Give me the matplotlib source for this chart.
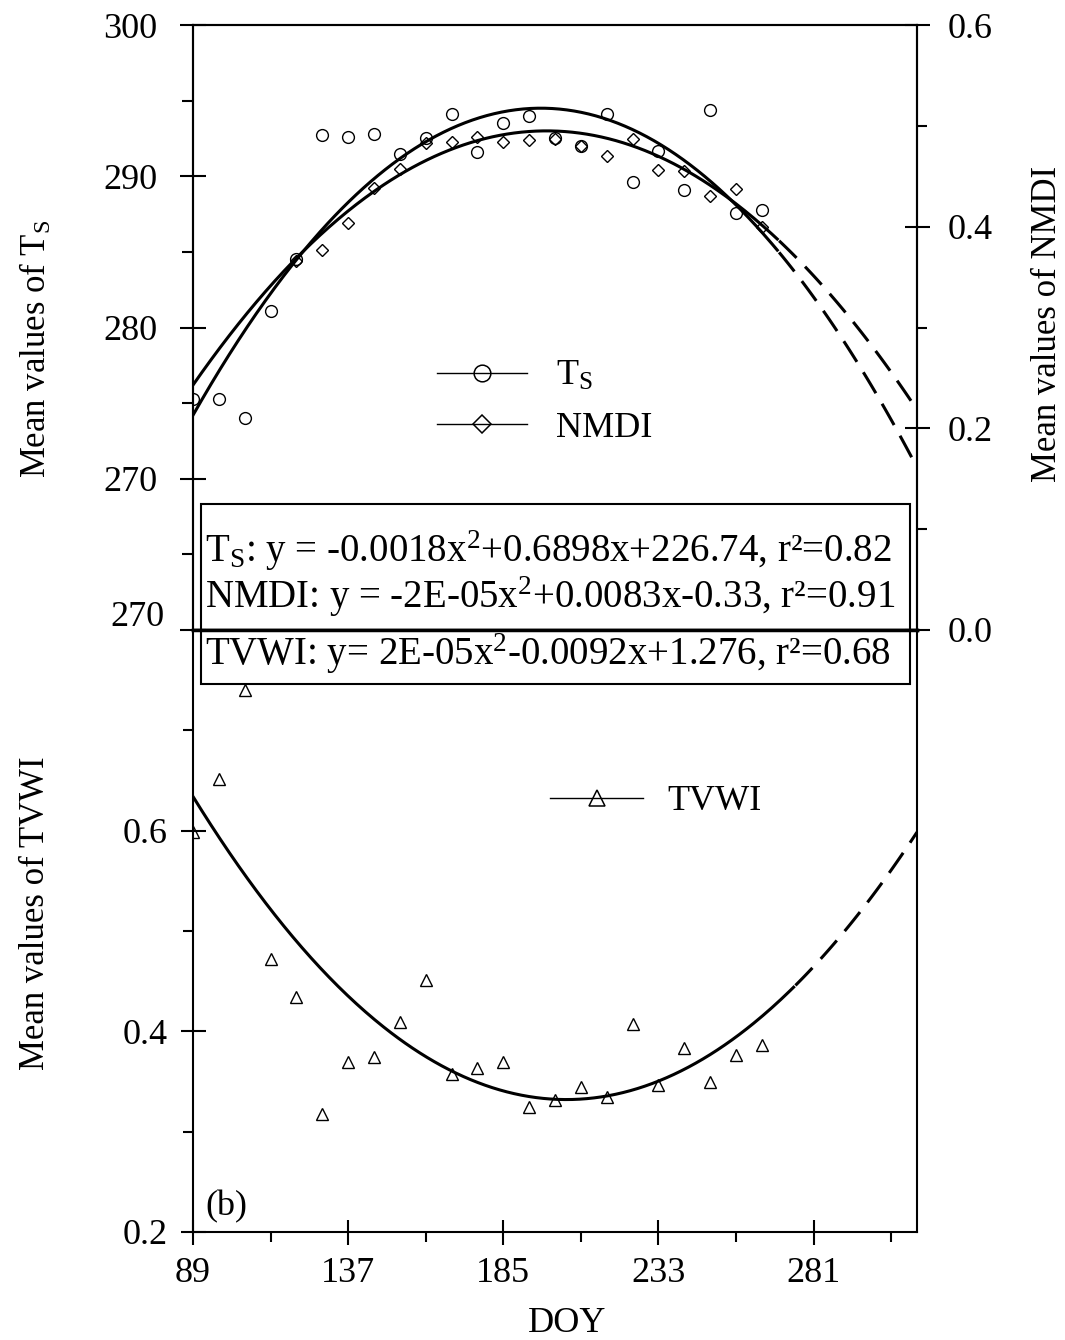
import numpy as np
import matplotlib
matplotlib.use("Agg")
import matplotlib.pyplot as plt
from matplotlib.lines import Line2D
from matplotlib.patches import Rectangle

plt.rcParams["font.family"] = ["Liberation Serif", "DejaVu Serif"]
plt.rcParams["mathtext.fontset"] = "custom"
plt.rcParams["mathtext.rm"] = "Liberation Serif"
plt.rcParams["mathtext.it"] = "Liberation Serif:italic"

# 8-day composites
doy = [89, 97, 105, 113, 121, 129, 137, 145, 153, 161, 169, 177,
       185, 193, 201, 209, 217, 225, 233, 241, 249, 257, 265]
ts = [275.3, 275.3, 274.0, 281.1, 284.5, 292.7, 292.6, 292.8, 291.5, 292.5, 294.1, 291.6,
      293.5, 294.0, 292.5, 292.0, 294.1, 289.6, 291.7, 289.1, 294.4, 287.6, 287.8]
# first NMDI points are hidden under the fitted lines in the original
nmdi = [np.nan, np.nan, np.nan, np.nan, 0.366, 0.377, 0.404, 0.438, 0.457, 0.483, 0.484, 0.489,
        0.484, 0.486, 0.487, 0.480, 0.470, 0.487, 0.456, 0.455, 0.430, 0.437, 0.400]
tvwi = [0.599, 0.651, 0.740, 0.472, 0.434, 0.318, 0.369, 0.374, 0.409, 0.451, 0.357, 0.363,
        0.369, 0.325, 0.332, 0.345, 0.335, 0.407, 0.347, 0.383, 0.350, 0.376, 0.386]

# quadratic fits, vertex form y = k + a*(x-h)^2 (as drawn in the figure)
ts_fit = (-1.753e-3, 196.6, 294.5)
nmdi_fit = (-2.106e-5, 198.4, 0.495)
tvwi_fit = (2.264e-5, 204.5, 0.332)

eq_ts = "T$_\\mathrm{S}$: y = -0.0018x$^2$+0.6898x+226.74, r\u00b2=0.82"
eq_nmdi = "NMDI: y = -2E-05x$^2$+0.0083x-0.33, r\u00b2=0.91"
eq_tvwi = "TVWI: y= 2E-05x$^2$-0.0092x+1.276, r\u00b2=0.68"

x_ticks = [89, 137, 185, 233, 281]
x_minor = [113, 161, 209, 257, 305]
FS = 26
W, H = 1065, 1340


def quad(fit, x):
    a, h, k = fit
    return k + a * (x - h) ** 2


def draw_fit(ax, fit, x_end):
    xs = np.linspace(89, 313, 400)
    solid = xs <= x_end
    ax.plot(xs[solid], quad(fit, xs[solid]), color="k", lw=2.2)
    ax.plot(xs[~solid], quad(fit, xs[~solid]), color="k", lw=2.2, ls=(0, (8, 4)))


def fx(px):
    return px / W


def fy(py):
    return 1 - py / H


fig = plt.figure(figsize=(10.65, 13.4), dpi=100)
ax1 = fig.add_axes([fx(193), fy(630), fx(917) - fx(193), fy(25) - fy(630)])
ax2 = ax1.twinx()
ax3 = fig.add_axes([fx(193), fy(1232), fx(917) - fx(193), fy(630) - fy(1232)])

# top panel: Ts (left) and NMDI (right)
ax1.plot(doy, ts, "o", ms=8.5, mfc="none", mec="k", mew=1.0)
draw_fit(ax1, ts_fit, 270)
ax2.plot(doy, nmdi, "D", ms=6.5, mfc="none", mec="k", mew=1.0)
draw_fit(ax2, nmdi_fit, 270)

ax1.set_xlim(89, 313)
ax1.set_ylim(260, 300)
ax1.set_yticks([260, 270, 280, 290, 300])
ax1.set_yticklabels(["", "270", "280", "290", "300"])
ax1.set_yticks([265, 275, 285, 295], minor=True)
ax2.set_ylim(0, 0.6)
ax2.set_yticks([0.0, 0.2, 0.4, 0.6])
ax2.set_yticklabels(["0.0", "0.2", "0.4", "0.6"])
ax2.set_yticks([0.1, 0.3, 0.5], minor=True)

ax1.tick_params(axis="x", which="both", bottom=False, labelbottom=False)
ax1.tick_params(axis="y", which="major", direction="inout", length=19, width=1.5, pad=16, labelsize=FS)
ax1.tick_params(axis="y", which="minor", direction="out", length=8, width=1.5)
ax2.tick_params(axis="y", which="major", direction="inout", length=18, width=1.5, pad=13, labelsize=FS)
ax2.tick_params(axis="y", which="minor", direction="out", length=7, width=1.5)

# bottom panel: TVWI
ax3.plot(doy, tvwi, "^", ms=9, mfc="none", mec="k", mew=1.0)
draw_fit(ax3, tvwi_fit, 275)
ax3.set_xlim(89, 313)
ax3.set_ylim(0.2, 0.8)
ax3.set_xticks(x_ticks)
ax3.set_xticks(x_minor, minor=True)
ax3.set_yticks([0.2, 0.4, 0.6])
ax3.set_yticklabels(["0.2", "0.4", "0.6"])
ax3.set_yticks([0.3, 0.5, 0.7], minor=True)
ax3.tick_params(axis="both", which="major", direction="inout", length=18, width=1.5, labelsize=FS)
ax3.tick_params(axis="y", which="major", pad=9)
ax3.tick_params(axis="x", which="major", pad=9)
ax3.tick_params(axis="both", which="minor", direction="out", length=7, width=1.5)

for ax in (ax1, ax2, ax3):
    for sp in ax.spines.values():
        sp.set_linewidth(1.5)
ax1.spines["bottom"].set_linewidth(2.5)
ax3.spines["top"].set_linewidth(2.5)

# legends
h_ts = Line2D([], [], color="k", lw=1, marker="o", ms=12, mfc="none", mew=1.1)
h_nm = Line2D([], [], color="k", lw=1, marker="D", ms=9, mfc="none", mew=1.1)
h_tv = Line2D([], [], color="k", lw=1, marker="^", ms=12, mfc="none", mew=1.1)
ax1.legend([h_ts, h_nm], ["T$_\\mathrm{S}$", "NMDI"], loc="upper left",
           bbox_to_anchor=(fx(437), fy(360)), bbox_transform=fig.transFigure,
           frameon=False, fontsize=FS, handlelength=2.5, handletextpad=0.8,
           labelspacing=0.5, borderpad=0, borderaxespad=0)
ax3.legend([h_tv], ["TVWI"], loc="upper left",
           bbox_to_anchor=(fx(550), fy(785)), bbox_transform=fig.transFigure,
           frameon=False, fontsize=FS, handlelength=2.58, handletextpad=0.67,
           borderpad=0, borderaxespad=0)

# equation box
fig.add_artist(Rectangle((fx(201), fy(684)), fx(910) - fx(201), fy(504) - fy(684),
                         transform=fig.transFigure, fill=False, lw=1.5, ec="k", zorder=5))
fig.text(fx(205), fy(562), eq_ts, fontsize=28, va="baseline")
fig.text(fx(205), fy(608), eq_nmdi, fontsize=28, va="baseline")
fig.text(fx(205), fy(665), eq_tvwi, fontsize=28, va="baseline")

# labels
fig.text(fx(165), fy(618), "270", fontsize=FS, ha="right", va="center")
fig.text(fx(205), fy(1207), "(b)", fontsize=FS, va="center")
fig.text(fx(567), fy(1323), "DOY", fontsize=FS, ha="center", va="center")
fig.text(fx(36), fy(478), "Mean values of T$_\\mathrm{S}$", fontsize=25,
         rotation=90, ha="center", va="bottom")
fig.text(fx(1047), fy(482), "Mean values of NMDI", fontsize=25,
         rotation=90, ha="center", va="bottom")
fig.text(fx(36), fy(1070), "Mean values of TVWI", fontsize=25,
         rotation=90, ha="center", va="bottom")

fig.savefig("out.png", dpi=100)
